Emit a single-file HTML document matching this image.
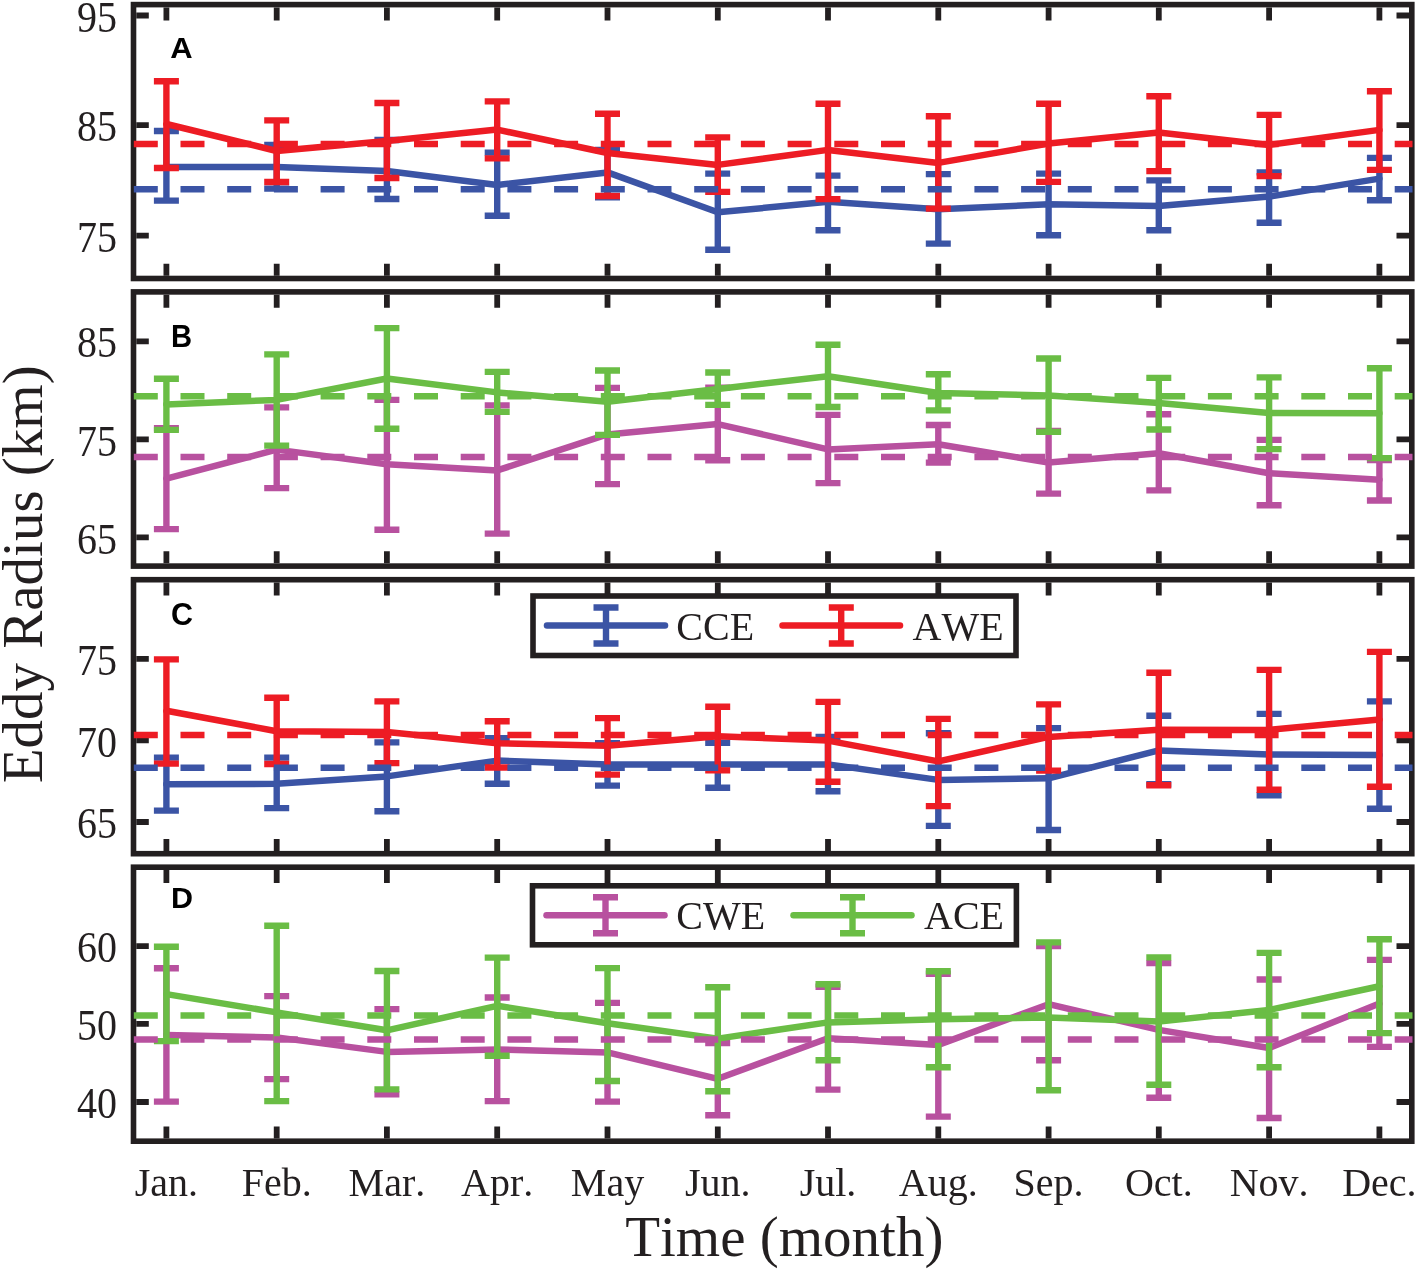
<!DOCTYPE html>
<html lang="en"><head><meta charset="utf-8"><title>Eddy Radius by month</title>
<style>
html,body{margin:0;padding:0;background:#fff}
body{width:1417px;height:1269px;overflow:hidden}
svg{display:block}
text{fill:#231f20;font-kerning:none}
.tk{font-family:"Liberation Serif","Times New Roman",serif;font-size:40px}
.ax{font-family:"Liberation Serif","Times New Roman",serif;font-size:57px}
.pl{font-family:"Liberation Sans",Arial,Helvetica,sans-serif;font-weight:bold;fill:#000}
</style></head><body>
<svg width="1417" height="1269" viewBox="0 0 1417 1269">
<rect width="1417" height="1269" fill="#fff"/>
<path d="M166.4 7.4v13.0M166.4 275.7v-12.0M276.7 7.4v13.0M276.7 275.7v-12.0M386.9 7.4v13.0M386.9 275.7v-12.0M497.2 7.4v13.0M497.2 275.7v-12.0M607.5 7.4v13.0M607.5 275.7v-12.0M717.8 7.4v13.0M717.8 275.7v-12.0M828 7.4v13.0M828 275.7v-12.0M938.3 7.4v13.0M938.3 275.7v-12.0M1048.6 7.4v13.0M1048.6 275.7v-12.0M1158.8 7.4v13.0M1158.8 275.7v-12.0M1269.1 7.4v13.0M1269.1 275.7v-12.0M1379.4 7.4v13.0M1379.4 275.7v-12.0M136.3 15.5h12.5M1409 15.5h-12.5M136.3 125.2h12.5M1409 125.2h-12.5M136.3 235.6h12.5M1409 235.6h-12.5" stroke="#231f20" stroke-width="5.8" fill="none"/>
<g stroke="#3b54a5" fill="none">
<polyline points="166.4,167 276.7,167 386.9,171 497.2,185 607.5,172.4 717.8,212.3 828,201.8 938.3,209.3 1048.6,204.3 1158.8,206.1 1269.1,196.6 1379.4,178.6" stroke-width="6.5" stroke-linejoin="round" stroke-linecap="round"/>
<path d="M166.4 131V200.6M276.7 145V188.6M386.9 140V199M497.2 152.6V215.7M607.5 150V197.4M717.8 173.6V249.8M828 175.6V230.3M938.3 174.1V243.6M1048.6 173.6V235.3M1158.8 180.4V230.3M1269.1 172.4V222.8M1379.4 157.9V200.3" stroke-width="6.4"/>
<path d="M153.9 131h25.0M153.9 200.6h25.0M264.2 145h25.0M264.2 188.6h25.0M374.4 140h25.0M374.4 199h25.0M484.7 152.6h25.0M484.7 215.7h25.0M595 150h25.0M595 197.4h25.0M705.2 173.6h25.0M705.2 249.8h25.0M815.5 175.6h25.0M815.5 230.3h25.0M925.8 174.1h25.0M925.8 243.6h25.0M1036.1 173.6h25.0M1036.1 235.3h25.0M1146.3 180.4h25.0M1146.3 230.3h25.0M1256.6 172.4h25.0M1256.6 222.8h25.0M1366.9 157.9h25.0M1366.9 200.3h25.0" stroke-width="6.4"/>
</g>
<g stroke="#ed1c24" fill="none">
<polyline points="166.4,124 276.7,151 386.9,141 497.2,129.6 607.5,153 717.8,164.9 828,149.9 938.3,162.9 1048.6,143.6 1158.8,132.4 1269.1,144.9 1379.4,129.9" stroke-width="6.5" stroke-linejoin="round" stroke-linecap="round"/>
<path d="M166.4 81.2V168M276.7 120.4V182M386.9 103V178M497.2 101.4V158.4M607.5 113.7V196M717.8 137.4V191.9M828 103.7V199.1M938.3 116.2V208.6M1048.6 103.7V181.9M1158.8 96.2V171.1M1269.1 114.9V176.1M1379.4 91.2V169.9" stroke-width="6.4"/>
<path d="M153.9 81.2h25.0M153.9 168h25.0M264.2 120.4h25.0M264.2 182h25.0M374.4 103h25.0M374.4 178h25.0M484.7 101.4h25.0M484.7 158.4h25.0M595 113.7h25.0M595 196h25.0M705.2 137.4h25.0M705.2 191.9h25.0M815.5 103.7h25.0M815.5 199.1h25.0M925.8 116.2h25.0M925.8 208.6h25.0M1036.1 103.7h25.0M1036.1 181.9h25.0M1146.3 96.2h25.0M1146.3 171.1h25.0M1256.6 114.9h25.0M1256.6 176.1h25.0M1366.9 91.2h25.0M1366.9 169.9h25.0" stroke-width="6.4"/>
</g>
<rect x="133.5" y="4.6" width="1278.3" height="273.9" fill="none" stroke="#231f20" stroke-width="5.6"/>
<line x1="133.8" y1="189.3" x2="1412.5" y2="189.3" stroke="#3b54a5" stroke-width="6.5" stroke-dasharray="24 22.7"/>
<line x1="133.8" y1="144.1" x2="1412.5" y2="144.1" stroke="#ed1c24" stroke-width="6.5" stroke-dasharray="24 22.7"/>
<text transform="translate(117,31.6) scale(1,1.09)" text-anchor="end" class="tk">95</text>
<text transform="translate(117,141.3) scale(1,1.09)" text-anchor="end" class="tk">85</text>
<text transform="translate(117,251.7) scale(1,1.09)" text-anchor="end" class="tk">75</text>
<text transform="translate(170.2,58) scale(1,0.97)" class="pl" font-size="31">A</text>
<path d="M166.4 294.7v13.0M166.4 563.3v-12.0M276.7 294.7v13.0M276.7 563.3v-12.0M386.9 294.7v13.0M386.9 563.3v-12.0M497.2 294.7v13.0M497.2 563.3v-12.0M607.5 294.7v13.0M607.5 563.3v-12.0M717.8 294.7v13.0M717.8 563.3v-12.0M828 294.7v13.0M828 563.3v-12.0M938.3 294.7v13.0M938.3 563.3v-12.0M1048.6 294.7v13.0M1048.6 563.3v-12.0M1158.8 294.7v13.0M1158.8 563.3v-12.0M1269.1 294.7v13.0M1269.1 563.3v-12.0M1379.4 294.7v13.0M1379.4 563.3v-12.0M136.3 341.3h12.5M1409 341.3h-12.5M136.3 439.4h12.5M1409 439.4h-12.5M136.3 537.4h12.5M1409 537.4h-12.5" stroke="#231f20" stroke-width="5.8" fill="none"/>
<g stroke="#b8519f" fill="none">
<polyline points="166.4,478.7 276.7,449.6 386.9,464.2 497.2,470.4 607.5,434.4 717.8,424.1 828,449.4 938.3,444.2 1048.6,462.6 1158.8,453.2 1269.1,473.2 1379.4,479.8" stroke-width="6.5" stroke-linejoin="round" stroke-linecap="round"/>
<path d="M166.4 428.2V529.1M276.7 407.4V488.1M386.9 399.9V529.7M497.2 405.4V533.6M607.5 387.9V484.1M717.8 387.6V460.3M828 414.9V483.1M938.3 425V462.6M1048.6 431V493.6M1158.8 414.2V490.4M1269.1 439.9V505.3M1379.4 460V500.5" stroke-width="6.4"/>
<path d="M153.9 428.2h25.0M153.9 529.1h25.0M264.2 407.4h25.0M264.2 488.1h25.0M374.4 399.9h25.0M374.4 529.7h25.0M484.7 405.4h25.0M484.7 533.6h25.0M595 387.9h25.0M595 484.1h25.0M705.2 387.6h25.0M705.2 460.3h25.0M815.5 414.9h25.0M815.5 483.1h25.0M925.8 425h25.0M925.8 462.6h25.0M1036.1 431h25.0M1036.1 493.6h25.0M1146.3 414.2h25.0M1146.3 490.4h25.0M1256.6 439.9h25.0M1256.6 505.3h25.0M1366.9 460h25.0M1366.9 500.5h25.0" stroke-width="6.4"/>
</g>
<g stroke="#6abd45" fill="none">
<polyline points="166.4,404.4 276.7,399.9 386.9,378.5 497.2,392.4 607.5,401.7 717.8,388.9 828,376.2 938.3,393 1048.6,395.4 1158.8,403.1 1269.1,412.9 1379.4,413.2" stroke-width="6.5" stroke-linejoin="round" stroke-linecap="round"/>
<path d="M166.4 378.7V429.9M276.7 354.4V445.6M386.9 328.1V428.7M497.2 371.9V411.9M607.5 370.5V434.9M717.8 372.5V404.9M828 344.7V407M938.3 374.3V410.4M1048.6 358.5V431.9M1158.8 377.9V429.5M1269.1 377.4V449.1M1379.4 368.2V458.1" stroke-width="6.4"/>
<path d="M153.9 378.7h25.0M153.9 429.9h25.0M264.2 354.4h25.0M264.2 445.6h25.0M374.4 328.1h25.0M374.4 428.7h25.0M484.7 371.9h25.0M484.7 411.9h25.0M595 370.5h25.0M595 434.9h25.0M705.2 372.5h25.0M705.2 404.9h25.0M815.5 344.7h25.0M815.5 407h25.0M925.8 374.3h25.0M925.8 410.4h25.0M1036.1 358.5h25.0M1036.1 431.9h25.0M1146.3 377.9h25.0M1146.3 429.5h25.0M1256.6 377.4h25.0M1256.6 449.1h25.0M1366.9 368.2h25.0M1366.9 458.1h25.0" stroke-width="6.4"/>
</g>
<rect x="133.5" y="291.9" width="1278.3" height="274.2" fill="none" stroke="#231f20" stroke-width="5.6"/>
<line x1="133.8" y1="456.9" x2="1412.5" y2="456.9" stroke="#b8519f" stroke-width="6.5" stroke-dasharray="24 22.7"/>
<line x1="133.8" y1="396.2" x2="1412.5" y2="396.2" stroke="#6abd45" stroke-width="6.5" stroke-dasharray="24 22.7"/>
<text transform="translate(117,357.4) scale(1,1.09)" text-anchor="end" class="tk">85</text>
<text transform="translate(117,455.5) scale(1,1.09)" text-anchor="end" class="tk">75</text>
<text transform="translate(117,553.5) scale(1,1.09)" text-anchor="end" class="tk">65</text>
<text transform="translate(171.1,347.1) scale(1,1.045)" class="pl" font-size="29.2">B</text>
<path d="M166.4 582.5v13.0M166.4 850.9v-12.0M276.7 582.5v13.0M276.7 850.9v-12.0M386.9 582.5v13.0M386.9 850.9v-12.0M497.2 582.5v13.0M497.2 850.9v-12.0M607.5 582.5v13.0M607.5 850.9v-12.0M717.8 582.5v13.0M717.8 850.9v-12.0M828 582.5v13.0M828 850.9v-12.0M938.3 582.5v13.0M938.3 850.9v-12.0M1048.6 582.5v13.0M1048.6 850.9v-12.0M1158.8 582.5v13.0M1158.8 850.9v-12.0M1269.1 582.5v13.0M1269.1 850.9v-12.0M1379.4 582.5v13.0M1379.4 850.9v-12.0M136.3 658.9h12.5M1409 658.9h-12.5M136.3 740.4h12.5M1409 740.4h-12.5M136.3 822h12.5M1409 822h-12.5" stroke="#231f20" stroke-width="5.8" fill="none"/>
<g stroke="#3b54a5" fill="none">
<polyline points="166.4,784.3 276.7,783.8 386.9,776.4 497.2,760.6 607.5,764.4 717.8,764.6 828,764.4 938.3,779.9 1048.6,778.3 1158.8,750.4 1269.1,754.5 1379.4,755.1" stroke-width="6.5" stroke-linejoin="round" stroke-linecap="round"/>
<path d="M166.4 757.6V810.6M276.7 757.6V808.1M386.9 742.4V811.2M497.2 738.1V783.8M607.5 743.1V785.6M717.8 742.7V787.8M828 736.9V791.2M938.3 733.3V825.9M1048.6 728.1V830M1158.8 715.7V784.2M1269.1 713.9V795.3M1379.4 701.4V808.8" stroke-width="6.4"/>
<path d="M153.9 757.6h25.0M153.9 810.6h25.0M264.2 757.6h25.0M264.2 808.1h25.0M374.4 742.4h25.0M374.4 811.2h25.0M484.7 738.1h25.0M484.7 783.8h25.0M595 743.1h25.0M595 785.6h25.0M705.2 742.7h25.0M705.2 787.8h25.0M815.5 736.9h25.0M815.5 791.2h25.0M925.8 733.3h25.0M925.8 825.9h25.0M1036.1 728.1h25.0M1036.1 830h25.0M1146.3 715.7h25.0M1146.3 784.2h25.0M1256.6 713.9h25.0M1256.6 795.3h25.0M1366.9 701.4h25.0M1366.9 808.8h25.0" stroke-width="6.4"/>
</g>
<g stroke="#ed1c24" fill="none">
<polyline points="166.4,710.8 276.7,731.2 386.9,731.9 497.2,743.3 607.5,745.8 717.8,736.3 828,740.6 938.3,761.4 1048.6,736.9 1158.8,729.7 1269.1,729.9 1379.4,719.4" stroke-width="6.5" stroke-linejoin="round" stroke-linecap="round"/>
<path d="M166.4 659.4V763.6M276.7 697.7V764M386.9 701.4V763.1M497.2 721.2V767.5M607.5 718.1V774.6M717.8 706.8V770.4M828 701.9V781.8M938.3 718.9V806.1M1048.6 704.4V770.6M1158.8 672.7V785.3M1269.1 669.9V789.8M1379.4 651.9V786.8" stroke-width="6.4"/>
<path d="M153.9 659.4h25.0M153.9 763.6h25.0M264.2 697.7h25.0M264.2 764h25.0M374.4 701.4h25.0M374.4 763.1h25.0M484.7 721.2h25.0M484.7 767.5h25.0M595 718.1h25.0M595 774.6h25.0M705.2 706.8h25.0M705.2 770.4h25.0M815.5 701.9h25.0M815.5 781.8h25.0M925.8 718.9h25.0M925.8 806.1h25.0M1036.1 704.4h25.0M1036.1 770.6h25.0M1146.3 672.7h25.0M1146.3 785.3h25.0M1256.6 669.9h25.0M1256.6 789.8h25.0M1366.9 651.9h25.0M1366.9 786.8h25.0" stroke-width="6.4"/>
</g>
<rect x="133.5" y="579.7" width="1278.3" height="274" fill="none" stroke="#231f20" stroke-width="5.6"/>
<line x1="133.8" y1="767.8" x2="1412.5" y2="767.8" stroke="#3b54a5" stroke-width="6.5" stroke-dasharray="24 22.7"/>
<line x1="133.8" y1="734.9" x2="1412.5" y2="734.9" stroke="#ed1c24" stroke-width="6.5" stroke-dasharray="24 22.7"/>
<text transform="translate(117,675) scale(1,1.09)" text-anchor="end" class="tk">75</text>
<text transform="translate(117,756.5) scale(1,1.09)" text-anchor="end" class="tk">70</text>
<text transform="translate(117,838.1) scale(1,1.09)" text-anchor="end" class="tk">65</text>
<text transform="translate(171.1,625.2) scale(1,1.025)" class="pl" font-size="30.5">C</text>
<path d="M166.4 870v13.0M166.4 1138.4v-12.0M276.7 870v13.0M276.7 1138.4v-12.0M386.9 870v13.0M386.9 1138.4v-12.0M497.2 870v13.0M497.2 1138.4v-12.0M607.5 870v13.0M607.5 1138.4v-12.0M717.8 870v13.0M717.8 1138.4v-12.0M828 870v13.0M828 1138.4v-12.0M938.3 870v13.0M938.3 1138.4v-12.0M1048.6 870v13.0M1048.6 1138.4v-12.0M1158.8 870v13.0M1158.8 1138.4v-12.0M1269.1 870v13.0M1269.1 1138.4v-12.0M1379.4 870v13.0M1379.4 1138.4v-12.0M136.3 946.1h12.5M1409 946.1h-12.5M136.3 1023.9h12.5M1409 1023.9h-12.5M136.3 1102h12.5M1409 1102h-12.5" stroke="#231f20" stroke-width="5.8" fill="none"/>
<g stroke="#b8519f" fill="none">
<polyline points="166.4,1034.9 276.7,1037.4 386.9,1051.9 497.2,1049.5 607.5,1052.4 717.8,1078.8 828,1038.2 938.3,1044.9 1048.6,1004.2 1158.8,1029.9 1269.1,1048 1379.4,1003.6" stroke-width="6.5" stroke-linejoin="round" stroke-linecap="round"/>
<path d="M166.4 968.2V1101.6M276.7 996.1V1079.1M386.9 1009.1V1094.3M497.2 997.5V1101.1M607.5 1002.9V1101.6M717.8 1043.1V1115.3M828 986.7V1089.6M938.3 973.7V1116.6M1048.6 946V1060.3M1158.8 963.1V1097.8M1269.1 979.5V1118M1379.4 959.9V1046.9" stroke-width="6.4"/>
<path d="M153.9 968.2h25.0M153.9 1101.6h25.0M264.2 996.1h25.0M264.2 1079.1h25.0M374.4 1009.1h25.0M374.4 1094.3h25.0M484.7 997.5h25.0M484.7 1101.1h25.0M595 1002.9h25.0M595 1101.6h25.0M705.2 1043.1h25.0M705.2 1115.3h25.0M815.5 986.7h25.0M815.5 1089.6h25.0M925.8 973.7h25.0M925.8 1116.6h25.0M1036.1 946h25.0M1036.1 1060.3h25.0M1146.3 963.1h25.0M1146.3 1097.8h25.0M1256.6 979.5h25.0M1256.6 1118h25.0M1366.9 959.9h25.0M1366.9 1046.9h25.0" stroke-width="6.4"/>
</g>
<g stroke="#6abd45" fill="none">
<polyline points="166.4,994.1 276.7,1012.4 386.9,1030.3 497.2,1005.8 607.5,1023.2 717.8,1038.6 828,1022.4 938.3,1019.2 1048.6,1017.4 1158.8,1021.6 1269.1,1009.9 1379.4,986.2" stroke-width="6.5" stroke-linejoin="round" stroke-linecap="round"/>
<path d="M166.4 946.7V1041.1M276.7 925.7V1101.1M386.9 971V1089.4M497.2 957.6V1055.7M607.5 968.1V1081M717.8 987.3V1091.2M828 984.2V1060.3M938.3 971.2V1067.2M1048.6 942.4V1090.3M1158.8 957.4V1084.8M1269.1 952.9V1067.3M1379.4 939.2V1033.1" stroke-width="6.4"/>
<path d="M153.9 946.7h25.0M153.9 1041.1h25.0M264.2 925.7h25.0M264.2 1101.1h25.0M374.4 971h25.0M374.4 1089.4h25.0M484.7 957.6h25.0M484.7 1055.7h25.0M595 968.1h25.0M595 1081h25.0M705.2 987.3h25.0M705.2 1091.2h25.0M815.5 984.2h25.0M815.5 1060.3h25.0M925.8 971.2h25.0M925.8 1067.2h25.0M1036.1 942.4h25.0M1036.1 1090.3h25.0M1146.3 957.4h25.0M1146.3 1084.8h25.0M1256.6 952.9h25.0M1256.6 1067.3h25.0M1366.9 939.2h25.0M1366.9 1033.1h25.0" stroke-width="6.4"/>
</g>
<rect x="133.5" y="867.2" width="1278.3" height="274" fill="none" stroke="#231f20" stroke-width="5.6"/>
<line x1="133.8" y1="1039.4" x2="1412.5" y2="1039.4" stroke="#b8519f" stroke-width="6.5" stroke-dasharray="24 22.7"/>
<line x1="133.8" y1="1015.4" x2="1412.5" y2="1015.4" stroke="#6abd45" stroke-width="6.5" stroke-dasharray="24 22.7"/>
<text transform="translate(117,962.2) scale(1,1.09)" text-anchor="end" class="tk">60</text>
<text transform="translate(117,1040) scale(1,1.09)" text-anchor="end" class="tk">50</text>
<text transform="translate(117,1118.1) scale(1,1.09)" text-anchor="end" class="tk">40</text>
<text transform="translate(171.1,907.9) scale(1,0.98)" class="pl" font-size="30.5">D</text>
<rect x="533" y="596" width="483" height="59.5" fill="#fff" stroke="#231f20" stroke-width="5.6"/>
<g stroke="#3b54a5" fill="none"><path d="M547 625.5H665" stroke-width="6.5" stroke-linecap="round"/><path d="M606 607.5V643.5" stroke-width="6.4"/><path d="M593.5 607.5h25.0M593.5 643.5h25.0" stroke-width="6.4"/></g>
<text x="676.3" y="640" class="tk">CCE</text>
<g stroke="#ed1c24" fill="none"><path d="M782.5 625.5H900" stroke-width="6.5" stroke-linecap="round"/><path d="M841.2 607.5V643.5" stroke-width="6.4"/><path d="M828.8 607.5h25.0M828.8 643.5h25.0" stroke-width="6.4"/></g>
<text x="912.5" y="640" class="tk">AWE</text>
<rect x="532.5" y="885.8" width="483.9" height="59" fill="#fff" stroke="#231f20" stroke-width="5.6"/>
<g stroke="#b8519f" fill="none"><path d="M546.5 915.3H664.5" stroke-width="6.5" stroke-linecap="round"/><path d="M605.5 897.3V933.3" stroke-width="6.4"/><path d="M593 897.3h25.0M593 933.3h25.0" stroke-width="6.4"/></g>
<text x="676.3" y="929.2" class="tk">CWE</text>
<g stroke="#6abd45" fill="none"><path d="M793.5 915.3H911.5" stroke-width="6.5" stroke-linecap="round"/><path d="M852.5 897.3V933.3" stroke-width="6.4"/><path d="M840 897.3h25.0M840 933.3h25.0" stroke-width="6.4"/></g>
<text x="924" y="929.2" class="tk">ACE</text>
<text x="166.4" y="1195.9" text-anchor="middle" class="tk">Jan.</text>
<text x="276.7" y="1195.9" text-anchor="middle" class="tk">Feb.</text>
<text x="386.9" y="1195.9" text-anchor="middle" class="tk">Mar.</text>
<text x="497.2" y="1195.9" text-anchor="middle" class="tk">Apr.</text>
<text x="607.5" y="1195.9" text-anchor="middle" class="tk">May</text>
<text x="717.8" y="1195.9" text-anchor="middle" class="tk">Jun.</text>
<text x="828" y="1195.9" text-anchor="middle" class="tk">Jul.</text>
<text x="938.3" y="1195.9" text-anchor="middle" class="tk">Aug.</text>
<text x="1048.6" y="1195.9" text-anchor="middle" class="tk">Sep.</text>
<text x="1158.8" y="1195.9" text-anchor="middle" class="tk">Oct.</text>
<text x="1269.1" y="1195.9" text-anchor="middle" class="tk">Nov.</text>
<text x="1379.4" y="1195.9" text-anchor="middle" class="tk">Dec.</text>
<text x="784.3" y="1256" text-anchor="middle" class="ax">Time (month)</text>
<text transform="translate(41.7,574.3) rotate(-90)" text-anchor="middle" class="ax">Eddy Radius (km)</text>
</svg>
</body></html>
